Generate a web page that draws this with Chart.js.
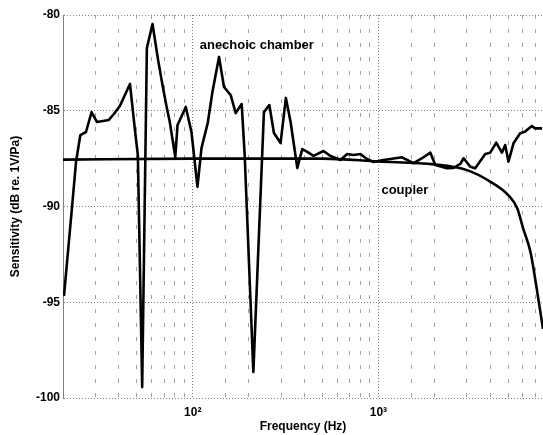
<!DOCTYPE html>
<html>
<head>
<meta charset="utf-8">
<script src="https://cdn.jsdelivr.net/npm/chart.js@4.4.0/dist/chart.umd.min.js"></script>
<style>
    body { margin: 0; background: #fff; }
    #wrap { width: 543px; height: 435px; position: relative; }
</style>
</head>
<body>
<div id="wrap"><canvas id="sensChart"></canvas></div>
<script>
// Data
const anechoicFreq = [20.25, 22.55, 23.5, 24.8, 26.6, 28.5, 30.5, 35.3, 37.6, 40.5, 42.6, 45.9, 48.8, 50.6, 53.4,
    56.6, 60.7, 64.8, 68.7, 72.5, 75.2, 80.5, 82.8, 91.7, 98.4, 106, 111.4, 120.4, 127.6, 138.5,
    147.3, 160.1, 170.3, 183.4, 190.4, 212, 241.7, 258.5, 273.6, 297.2, 317.4, 336.5, 365.6, 388.9,
    413.7, 447.2, 506.1, 552, 624.8, 678.8, 733.7, 800.2, 851.3, 940, 1064, 1160, 1341, 1548,
    1718, 1904, 2025, 2341, 2531, 2760, 2875, 3123, 3322, 3761, 4001, 4310, 4624, 4817, 5018,
    5340, 5800, 6171, 6704, 6985, 7614];
const anechoicDb = [-94.67, -89.66, -87.68, -86.27, -86.11, -85.07, -85.59, -85.48, -85.17, -84.75, -84.28, -83.6, -86.0, -87.31, -99.43,
    -81.72, -80.47, -82.25, -83.66, -84.86, -85.59, -87.42, -85.74, -84.8, -86.11, -88.98, -86.95, -85.64, -84.02, -82.19,
    -83.76, -84.18, -85.12, -84.65, -87.31, -98.64, -85.07, -84.7, -86.16, -86.68, -84.33, -85.59, -87.99, -87.0,
    -87.15, -87.36, -87.1, -87.36, -87.57, -87.26, -87.31, -87.26, -87.47, -87.68, -87.57, -87.52, -87.43, -87.74,
    -87.48, -87.19, -87.83, -88.0, -87.99, -87.78, -87.48, -87.92, -88.0, -87.26, -87.19, -86.67, -87.19, -86.79, -87.66,
    -86.7, -86.18, -86.09, -85.8, -85.92, -85.92];

const couplerFreq = [20, 100, 500, 1000, 2000, 3000, 4000, 5000, 5600, 6000, 6600, 7100, 7700];
const couplerDb = [-87.55, -87.5, -87.5, -87.65, -87.8, -88.1, -88.7, -89.4, -90.1, -91.1, -92.4, -94.2, -96.4];

const yTicks = [-100, -95, -90, -85, -80];
const superDigits = { 2: '²', 3: '³', 4: '⁴' };

function toPoints(xs, ys) {
    return xs.map((x, i) => ({ x: x, y: ys[i] }));
}

function isDecade(v) {
    const l = Math.log10(v);
    return Math.abs(l - Math.round(l)) < 1e-9;
}

// Teks keterangan di dalam plot
const notesPlugin = {
    id: 'notes',
    afterDatasetsDraw(chart) {
        const { ctx, scales } = chart;
        ctx.save();
        ctx.font = 'bold 13px "Liberation Sans", Arial, sans-serif';
        ctx.fillStyle = '#000';
        ctx.textBaseline = 'middle';
        ctx.textAlign = 'left';
        ctx.fillText('anechoic chamber', scales.x.getPixelForValue(109), scales.y.getPixelForValue(-81.57));
        ctx.fillText('coupler', scales.x.getPixelForValue(1038), scales.y.getPixelForValue(-89.14));
        ctx.restore();
    }
};

Chart.defaults.font.family = '"Liberation Sans", Arial, sans-serif';
Chart.defaults.font.weight = 'bold';
Chart.defaults.color = '#000';

const ctx = document.getElementById('sensChart').getContext('2d');
new Chart(ctx, {
    type: 'line',
    data: {
        datasets: [{
            label: 'anechoic chamber',
            data: toPoints(anechoicFreq, anechoicDb),
            borderColor: '#000',
            borderWidth: 2.6,
            pointRadius: 0,
            tension: 0,
            borderJoinStyle: 'round'
        }, {
            label: 'coupler',
            data: toPoints(couplerFreq, couplerDb),
            borderColor: '#000',
            borderWidth: 2.6,
            pointRadius: 0,
            cubicInterpolationMode: 'monotone',
            tension: 0.4
        }]
    },
    options: {
        responsive: true,
        maintainAspectRatio: false,
        animation: false,
        devicePixelRatio: 1,
        layout: { padding: { top: 15, right: 0, left: 0, bottom: 0 } },
        plugins: {
            legend: { display: false },
            tooltip: { enabled: false }
        },
        scales: {
            x: {
                type: 'logarithmic',
                min: 20,
                max: 7700,
                afterFit: function(scale) {
                    scale.height = 37;
                    scale.paddingLeft = 0;
                    scale.paddingRight = 0;
                },
                ticks: {
                    autoSkip: false,
                    maxRotation: 0,
                    padding: 7,
                    font: { size: 12, weight: 'bold' },
                    callback: function(value) {
                        if (isDecade(value)) {
                            const p = Math.round(Math.log10(value));
                            return '10' + (superDigits[p] || p);
                        }
                        return '';
                    }
                },
                grid: {
                    drawTicks: false,
                    lineWidth: 1,
                    color: function(c) {
                        if (!c.tick) return 'rgba(0,0,0,0)';
                        const v = c.tick.value;
                        if (v === 20 || v === 7700) return 'rgba(0,0,0,0)';
                        return isDecade(v) ? '#808080' : '#a0a0a0';
                    }
                },
                border: {
                    display: false,
                    dash: function(c) {
                        if (c.tick && isDecade(c.tick.value)) return [1, 2];
                        return [4, 10];
                    }
                },
                title: {
                    display: true,
                    text: 'Frequency (Hz)',
                    font: { size: 12, weight: 'bold' },
                    padding: { top: 0, bottom: 1 }
                }
            },
            y: {
                min: -100,
                max: -80,
                afterFit: function(scale) { scale.width = 63; },
                afterBuildTicks: function(scale) {
                    scale.ticks = yTicks.map(v => ({ value: v }));
                },
                ticks: {
                    padding: 3,
                    font: { size: 12, weight: 'bold' }
                },
                grid: {
                    drawTicks: false,
                    color: '#808080',
                    lineWidth: 1
                },
                border: {
                    display: true,
                    color: '#808080',
                    dash: [1, 2]
                },
                title: {
                    display: true,
                    text: 'Sensitivity (dB re. 1V/Pa)',
                    font: { size: 12, weight: 'bold' },
                    padding: { top: 8, bottom: 0 }
                }
            }
        }
    },
    plugins: [notesPlugin]
});
</script>
</body>
</html>
